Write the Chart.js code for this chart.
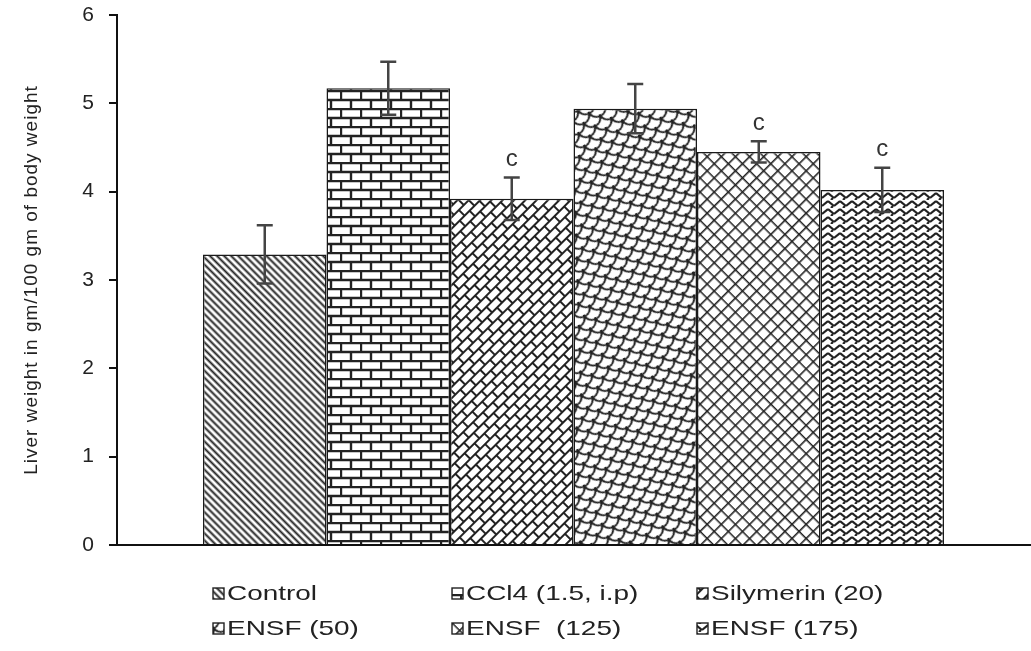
<!DOCTYPE html>
<html>
<head>
<meta charset="utf-8">
<script src="https://cdn.jsdelivr.net/npm/chart.js@4.4.0/dist/chart.umd.min.js"></script>
<style>
  html, body { margin: 0; padding: 0; background: #fff; }
  #wrap { width: 1031px; height: 651px; position: relative; }
</style>
</head>
<body>
<div id="wrap"><canvas id="myChart"></canvas></div>
<script>
const groups = ['Control', 'CCl4 (1.5, i.p)', 'Silymerin (20)', 'ENSF (50)', 'ENSF  (125)', 'ENSF (175)'];
const liverWeight = [3.29, 5.17, 3.92, 4.94, 4.45, 4.02];
const semValues = [0.33, 0.30, 0.24, 0.28, 0.12, 0.25];
const sigMarks = ['', '', 'c', '', 'c', 'c'];
const yTicks = [0, 1, 2, 3, 4, 5, 6];

const ctx = document.getElementById('myChart').getContext('2d');

// small tiles for the black & white fills
const makeTile = (w, h, draw) => {
  const c = document.createElement('canvas');
  c.width = w; c.height = h;
  const g = c.getContext('2d');
  g.fillStyle = '#fff';
  g.fillRect(0, 0, w, h);
  g.strokeStyle = '#222';
  g.fillStyle = '#222';
  draw(g, w, h);
  return c;
};

const toPattern = (tile, angle) => {
  const p = ctx.createPattern(tile, 'repeat');
  if (angle) p.setTransform(new DOMMatrix().rotate(angle));
  return p;
};

const stripes = makeTile(5, 5, (g, w) => {
  g.lineWidth = 2;
  g.beginPath(); g.moveTo(0, 2.5); g.lineTo(w, 2.5); g.stroke();
});

const bricks = makeTile(20, 18, (g, w, h) => {
  g.lineWidth = 2.4;
  g.beginPath();
  g.moveTo(0, 1); g.lineTo(w, 1);
  g.moveTo(0, 10); g.lineTo(w, 10);
  g.moveTo(1, 1); g.lineTo(1, 10);
  g.moveTo(11, 10); g.lineTo(11, h);
  g.stroke();
});

const slantBricks = makeTile(14, 16, (g, w, h) => {
  g.lineWidth = 2;
  g.beginPath();
  g.moveTo(0, 1); g.lineTo(w, 1);
  g.moveTo(0, 9); g.lineTo(w, 9);
  g.moveTo(1, 1); g.lineTo(1, 9);
  g.moveTo(8, 9); g.lineTo(8, h);
  g.stroke();
});

const scales = makeTile(18, 14, (g) => {
  g.lineWidth = 2;
  [[9, 0], [0, 7], [18, 7], [9, 14], [0, -7], [18, -7]].forEach(([cx, cy]) => {
    g.beginPath(); g.arc(cx, cy, 9, 0, Math.PI); g.stroke();
  });
});

const lattice = makeTile(10, 10, (g, w, h) => {
  g.lineWidth = 1.6;
  g.beginPath();
  g.moveTo(0, 0.8); g.lineTo(w, 0.8);
  g.moveTo(0.8, 0); g.lineTo(0.8, h);
  g.stroke();
});

const herringbone = makeTile(12, 8, (g) => {
  g.lineWidth = 2.2;
  g.beginPath();
  g.moveTo(0, 1); g.lineTo(6, 6);
  g.moveTo(6, 6); g.lineTo(12, 1);
  g.moveTo(3, 8); g.lineTo(5, 6);
  g.stroke();
});

const fills = [
  toPattern(stripes, 45),
  toPattern(bricks, 0),
  toPattern(slantBricks, -45),
  toPattern(scales, -25),
  toPattern(lattice, 45),
  toPattern(herringbone, 0)
];

const errorBars = {
  id: 'errorBars',
  afterDatasetsDraw(chart) {
    const c = chart.ctx;
    const y = chart.scales.y;
    c.save();
    c.strokeStyle = '#444';
    c.lineWidth = 2.5;
    chart.data.datasets.forEach((ds, i) => {
      const bar = chart.getDatasetMeta(i).data[0];
      const v = ds.data[0];
      const top = y.getPixelForValue(v + semValues[i]);
      const bot = y.getPixelForValue(v - semValues[i]);
      c.beginPath();
      c.moveTo(bar.x, top); c.lineTo(bar.x, bot);
      c.moveTo(bar.x - 8, top); c.lineTo(bar.x + 8, top);
      c.moveTo(bar.x - 8, bot); c.lineTo(bar.x + 8, bot);
      c.stroke();
      if (sigMarks[i]) {
        c.fillStyle = '#333';
        c.font = '24px Arial';
        c.textAlign = 'center';
        c.textBaseline = 'middle';
        c.fillText(sigMarks[i], bar.x, top - 18);
      }
    });
    c.restore();
  }
};

// wide-looking lettering like the scanned figure
const spacing = {
  id: 'spacing',
  beforeDraw(chart) { chart.ctx.letterSpacing = '1px'; },
  beforeDatasetsDraw(chart) { chart.ctx.letterSpacing = '0px'; }
};

// legend laid out in a fixed 3 x 2 grid
const gridLegend = {
  id: 'gridLegend',
  afterDraw(chart) {
    const c = chart.ctx;
    const cols = [213, 452, 697];
    const rows = [594, 629];
    c.save();
    chart.data.datasets.forEach((ds, i) => {
      const x = cols[i % 3];
      const y = rows[Math.floor(i / 3)];
      c.fillStyle = ds.backgroundColor;
      c.fillRect(x, y - 6, 11, 11);
      c.strokeStyle = '#222';
      c.lineWidth = 1.4;
      c.strokeRect(x, y - 6, 11, 11);
      c.save();
      c.translate(x + 14, y);
      c.scale(1.33, 1);
      c.fillStyle = '#222';
      c.font = '21px Arial';
      c.textAlign = 'left';
      c.textBaseline = 'middle';
      c.fillText(ds.label, 0, 0);
      c.restore();
    });
    c.restore();
  }
};

const config = {
  type: 'bar',
  data: {
    labels: [''],
    datasets: groups.map((g, i) => ({
      label: g,
      data: [liverWeight[i]],
      backgroundColor: fills[i],
      borderColor: '#1a1a1a',
      borderWidth: 1.5
    }))
  },
  options: {
    responsive: true,
    maintainAspectRatio: false,
    animation: false,
    layout: { padding: { left: 14, right: 1, top: 15, bottom: 106 } },
    datasets: { bar: { categoryPercentage: 0.8116, barPercentage: 1 } },
    plugins: {
      legend: { display: false },
      tooltip: { enabled: false }
    },
    scales: {
      x: {
        grid: { display: false },
        ticks: { display: false },
        border: { display: true, color: '#111', width: 2 },
        afterFit: (s) => { s.height = 0; }
      },
      y: {
        min: 0,
        max: 6,
        afterBuildTicks: (s) => { s.ticks = yTicks.map(v => ({ value: v })); },
        ticks: { color: '#222', font: { family: 'Arial', size: 21 }, padding: 14 },
        grid: { drawOnChartArea: false, drawTicks: true, tickLength: 8, color: '#111', lineWidth: 2 },
        border: { display: true, color: '#111', width: 2 },
        title: {
          display: true,
          text: 'Liver weight in gm/100 gm of body weight',
          color: '#222',
          font: { family: 'Arial', size: 19 },
          padding: { top: 6, bottom: 0 }
        },
        afterFit: (s) => { s.width = 103; s.paddingTop = 0; s.paddingBottom = 0; }
      }
    }
  },
  plugins: [spacing, errorBars, gridLegend]
};

new Chart(ctx, config);
</script>
</body>
</html>
